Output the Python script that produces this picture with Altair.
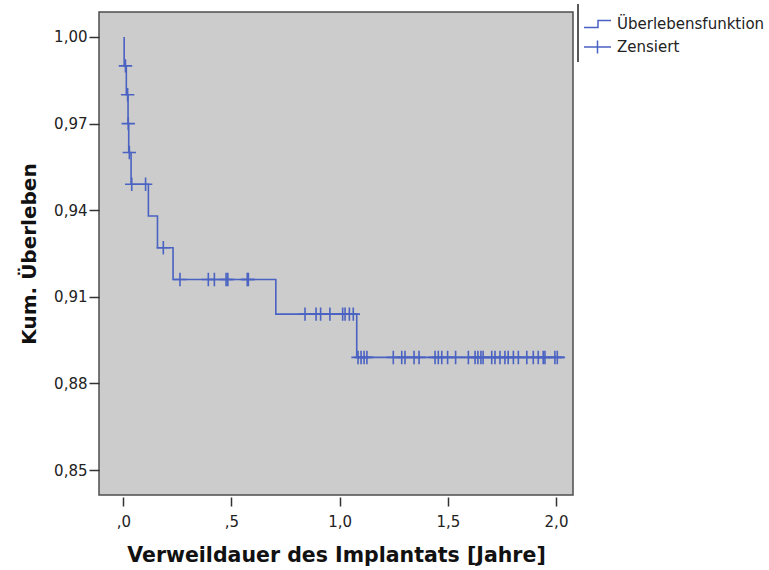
import altair as alt
import pandas as pd
import numpy as np

# --- data ---
start_time = 0.004
end_time = 2.042
event_times = [0.004, 0.014, 0.022, 0.025, 0.036, 0.116, 0.158, 0.230, 0.705, 1.079]
surv_after = [0.990, 0.980, 0.970, 0.960, 0.949, 0.938, 0.927, 0.916, 0.904, 0.889]

censor_times = [
    0.010, 0.020, 0.023, 0.028, 0.039, 0.103,
    0.185,
    0.262, 0.393, 0.421, 0.475, 0.483, 0.573, 0.578,
    0.840, 0.891, 0.912, 0.955, 1.014, 1.025, 1.045, 1.063,
    1.085, 1.099, 1.113, 1.126, 1.248, 1.287, 1.302, 1.344, 1.367,
    1.441, 1.456, 1.472, 1.499, 1.536, 1.595, 1.626, 1.639, 1.653, 1.663,
    1.703, 1.718, 1.741, 1.764, 1.779, 1.803, 1.826, 1.865, 1.895, 1.918,
    1.941, 1.949, 1.995, 2.006,
]

legend_labels = ["Überlebensfunktion", "Zensiert"]
x_ticks = [0, 0.5, 1.0, 1.5, 2.0]
y_ticks = [0.85, 0.88, 0.91, 0.94, 0.97, 1.00]

BLUE = "#4a62c2"
FRAME = "#4d4d4d"

# --- tables ---
line_df = pd.DataFrame({
    "time": [start_time] + event_times + [end_time],
    "surv": [1.0] + surv_after + [surv_after[-1]],
})
line_df["idx"] = range(len(line_df))

ev = np.array(event_times)
sv = np.array(surv_after)
pos = np.searchsorted(ev, np.array(censor_times), side="right") - 1
cens_surv = np.where(pos < 0, 1.0, sv[np.clip(pos, 0, None)])
cens_df = pd.DataFrame({"time": censor_times, "surv": cens_surv})

leg_df = pd.DataFrame({"type": legend_labels})

x_scale = alt.Scale(domain=[-0.1123, 2.0786], nice=False, zero=False)
y_scale = alt.Scale(domain=[0.84134, 1.00866], nice=False, zero=False)

x_axis = alt.Axis(
    values=x_ticks,
    labelExpr="datum.value < 1 ? replace(format(datum.value, '.1f'), '0.', ',') : replace(format(datum.value, '.1f'), '.', ',')",
    title="Verweildauer des Implantats [Jahre]",
    grid=False, domain=False, tickSize=9, offset=2, labelPadding=8,
    titleY=64, titleBaseline="alphabetic", titleFontSize=20.5,
)
y_axis = alt.Axis(
    values=y_ticks,
    labelExpr="replace(format(datum.value, '.2f'), '.', ',')",
    title="Kum. Überleben",
    grid=False, domain=False, tickSize=10, offset=0, labelPadding=2,
    titleX=-64, titleBaseline="alphabetic",
)

line = alt.Chart(line_df).mark_line(
    interpolate="step-after", color=BLUE, strokeWidth=1.6
).encode(
    x=alt.X("time:Q", scale=x_scale, axis=x_axis),
    y=alt.Y("surv:Q", scale=y_scale, axis=y_axis),
    order=alt.Order("idx:Q"),
)

censor = alt.Chart(cens_df).mark_point(
    shape="M-1,0H1M0,-1V1", filled=False, color=BLUE, strokeWidth=1.6, size=180, opacity=1
).encode(
    x=alt.X("time:Q", scale=x_scale),
    y=alt.Y("surv:Q", scale=y_scale),
)

step_sym = "M-1.35,0.35H0.05V-0.35H1.35"
plus_sym = "M-1.35,0H1.35M0,-0.65V0.65"

legend_layer = alt.Chart(leg_df).mark_point(
    filled=False, color=BLUE, opacity=0, strokeWidth=1.5
).encode(
    shape=alt.Shape(
        "type:N",
        scale=alt.Scale(domain=legend_labels, range=[step_sym, plus_sym]),
        legend=alt.Legend(
            title=None, orient="none", legendX=479, legendY=-7.5,
            padding=8.5, labelOffset=8.5, symbolSize=400, rowPadding=4,
            symbolStrokeColor=BLUE, symbolStrokeWidth=1.5, symbolOpacity=1,
            symbolFillColor="transparent",
            labelFont="DejaVu Sans", labelFontSize=15, labelColor="#222222",
        ),
    ),
)

# left edge line of the legend frame
legend_edge = alt.Chart(leg_df).mark_rule(color=FRAME, strokeWidth=1.5).encode(
    x=alt.value(479), y=alt.value(-8), y2=alt.value(50)
)

chart = alt.layer(line, censor, legend_layer, legend_edge).properties(
    width=474, height=483,
    autosize=alt.AutoSizeParams(type="none"),
    padding={"left": 99, "top": 12, "right": 196, "bottom": 75},
    background="white",
    view=alt.ViewBackground(fill="#cccccc", stroke=FRAME, strokeWidth=1.5),
).configure_axis(
    labelFont="DejaVu Sans", labelFontSize=15, labelColor="#222222",
    titleFont="DejaVu Sans", titleFontSize=20, titleFontWeight="bold", titleColor="#111111",
    tickColor="#333333", tickWidth=1.5,
)

chart.save("out.html", embed_options={"renderer": "svg", "actions": False})
